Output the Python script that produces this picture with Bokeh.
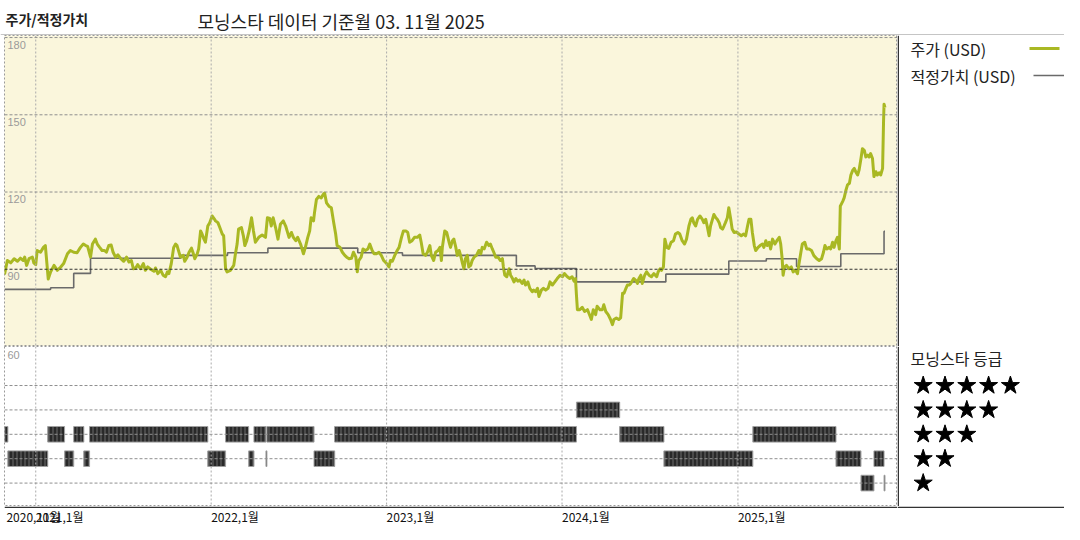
import pandas as pd
from bokeh.plotting import figure
from bokeh.layouts import column, row
from bokeh.models import Range1d, Span
from bokeh.core.properties import value
from bokeh.embed import file_html
from bokeh.resources import INLINE

# ---------------- data ----------------
title_text = "주가/적정가치"
subtitle_text = "모닝스타 데이터 기준월 03. 11월 2025"
price_label = "주가 (USD)"
fair_label = "적정가치 (USD)"
rating_title = "모닝스타 등급"

price_dates = [
    "2020-10-28", "2020-11-03", "2020-11-10", "2020-11-17", "2020-11-24", "2020-11-30", "2020-12-06", "2020-12-09",
    "2020-12-13", "2020-12-18", "2020-12-25", "2020-12-28",
    "2021-01-01", "2021-01-04", "2021-01-11", "2021-01-17", "2021-01-21", "2021-01-27", "2021-02-01", "2021-02-08",
    "2021-02-15", "2021-02-22", "2021-02-28", "2021-03-08", "2021-03-14", "2021-03-21", "2021-03-28", "2021-04-04",
    "2021-04-10", "2021-04-15", "2021-04-19", "2021-04-25", "2021-04-29", "2021-05-05", "2021-05-09", "2021-05-14",
    "2021-05-19", "2021-05-24", "2021-05-28", "2021-06-02", "2021-06-07", "2021-06-11", "2021-06-16", "2021-06-21",
    "2021-06-26", "2021-07-03", "2021-07-09", "2021-07-14", "2021-07-19", "2021-07-23", "2021-07-28", "2021-08-01",
    "2021-08-07", "2021-08-13", "2021-08-17", "2021-08-22", "2021-08-28", "2021-09-04", "2021-09-07", "2021-09-12",
    "2021-09-18", "2021-09-23", "2021-09-28", "2021-10-02", "2021-10-05", "2021-10-10", "2021-10-15", "2021-10-19",
    "2021-10-22", "2021-10-29", "2021-11-04", "2021-11-07", "2021-11-12", "2021-11-16", "2021-11-21", "2021-11-25",
    "2021-11-28", "2021-12-03", "2021-12-06", "2021-12-10", "2021-12-13", "2021-12-17", "2021-12-20", "2021-12-25",
    "2021-12-29",
    "2022-01-03", "2022-01-07", "2022-01-10", "2022-01-15", "2022-01-19", "2022-01-24", "2022-01-27", "2022-01-31",
    "2022-02-03", "2022-02-10", "2022-02-17", "2022-02-20", "2022-02-24", "2022-02-27", "2022-03-05", "2022-03-09",
    "2022-03-12", "2022-03-16", "2022-03-21", "2022-03-26", "2022-03-30", "2022-04-03", "2022-04-10", "2022-04-17",
    "2022-04-24", "2022-04-28", "2022-05-03", "2022-05-06", "2022-05-10", "2022-05-15", "2022-05-20", "2022-05-25",
    "2022-05-31", "2022-06-05", "2022-06-08", "2022-06-12", "2022-06-17", "2022-06-21", "2022-06-26", "2022-06-30",
    "2022-07-06", "2022-07-12", "2022-07-16", "2022-07-21", "2022-07-25", "2022-07-28", "2022-08-02", "2022-08-04",
    "2022-08-08", "2022-08-13", "2022-08-18", "2022-08-22", "2022-08-25", "2022-08-29", "2022-09-03", "2022-09-08",
    "2022-09-13", "2022-09-17", "2022-09-20", "2022-09-26", "2022-10-01", "2022-10-06", "2022-10-10", "2022-10-15",
    "2022-10-20", "2022-10-24", "2022-10-29", "2022-11-01", "2022-11-04", "2022-11-09", "2022-11-13", "2022-11-18",
    "2022-11-23", "2022-11-27", "2022-12-02", "2022-12-06", "2022-12-11", "2022-12-16", "2022-12-21", "2022-12-26",
    "2023-01-01", "2023-01-06", "2023-01-09", "2023-01-13", "2023-01-18", "2023-01-23", "2023-01-27", "2023-02-01",
    "2023-02-05", "2023-02-10", "2023-02-14", "2023-02-18", "2023-02-23", "2023-02-28", "2023-03-06", "2023-03-11",
    "2023-03-14", "2023-03-18", "2023-03-23", "2023-03-27", "2023-04-01", "2023-04-04", "2023-04-09", "2023-04-13",
    "2023-04-18", "2023-04-22", "2023-04-25", "2023-04-27", "2023-05-02", "2023-05-06", "2023-05-11", "2023-05-14",
    "2023-05-18", "2023-05-21", "2023-05-25", "2023-05-28", "2023-06-01", "2023-06-04", "2023-06-08", "2023-06-11",
    "2023-06-14", "2023-06-18", "2023-06-21", "2023-06-25", "2023-06-28", "2023-07-02", "2023-07-07", "2023-07-12",
    "2023-07-16", "2023-07-19", "2023-07-23", "2023-07-28", "2023-08-02", "2023-08-05", "2023-08-09", "2023-08-12",
    "2023-08-16", "2023-08-21", "2023-08-26", "2023-08-30", "2023-09-01", "2023-09-04", "2023-09-08", "2023-09-13",
    "2023-09-16", "2023-09-20", "2023-09-23", "2023-09-27", "2023-10-01", "2023-10-05", "2023-10-10", "2023-10-14",
    "2023-10-17", "2023-10-22", "2023-10-26", "2023-10-31", "2023-11-03", "2023-11-07", "2023-11-11", "2023-11-14",
    "2023-11-19", "2023-11-23", "2023-11-28", "2023-12-03", "2023-12-07", "2023-12-12", "2023-12-17", "2023-12-22",
    "2023-12-28",
    "2024-01-02", "2024-01-06", "2024-01-12", "2024-01-17", "2024-01-22", "2024-01-26", "2024-01-29", "2024-01-31",
    "2024-02-02", "2024-02-07", "2024-02-12", "2024-02-17", "2024-02-23", "2024-02-27", "2024-03-02", "2024-03-06",
    "2024-03-11", "2024-03-14", "2024-03-20", "2024-03-25", "2024-03-28", "2024-04-01", "2024-04-06", "2024-04-11",
    "2024-04-15", "2024-04-18", "2024-04-23", "2024-04-28", "2024-05-02", "2024-05-06", "2024-05-09", "2024-05-13",
    "2024-05-16", "2024-05-20", "2024-05-23", "2024-05-29", "2024-06-02", "2024-06-06", "2024-06-09", "2024-06-13",
    "2024-06-16", "2024-06-21", "2024-06-25", "2024-06-30", "2024-07-05", "2024-07-10", "2024-07-16", "2024-07-19",
    "2024-07-23", "2024-07-26", "2024-07-30", "2024-08-02", "2024-08-06", "2024-08-10", "2024-08-15", "2024-08-20",
    "2024-08-24", "2024-08-29", "2024-09-02", "2024-09-07", "2024-09-12", "2024-09-16", "2024-09-21", "2024-09-25",
    "2024-09-28", "2024-10-01", "2024-10-05", "2024-10-09", "2024-10-14", "2024-10-19", "2024-10-22", "2024-10-26",
    "2024-10-29", "2024-11-02", "2024-11-05", "2024-11-09", "2024-11-12", "2024-11-16", "2024-11-19", "2024-11-23",
    "2024-11-26", "2024-11-30", "2024-12-03", "2024-12-06", "2024-12-10", "2024-12-13", "2024-12-17", "2024-12-20",
    "2024-12-24", "2024-12-29",
    "2025-01-03", "2025-01-08", "2025-01-13", "2025-01-17", "2025-01-21", "2025-01-24", "2025-01-28", "2025-01-31",
    "2025-02-04", "2025-02-07", "2025-02-12", "2025-02-16", "2025-02-21", "2025-02-24", "2025-02-28", "2025-03-03",
    "2025-03-07", "2025-03-10", "2025-03-14", "2025-03-19", "2025-03-23", "2025-03-28", "2025-03-31", "2025-04-03",
    "2025-04-05", "2025-04-08", "2025-04-12", "2025-04-17", "2025-04-22", "2025-04-26", "2025-05-01", "2025-05-05",
    "2025-05-08", "2025-05-12", "2025-05-15", "2025-05-20", "2025-05-24", "2025-05-29", "2025-06-03", "2025-06-08",
    "2025-06-14", "2025-06-19", "2025-06-24", "2025-06-28", "2025-07-01", "2025-07-05", "2025-07-10", "2025-07-13",
    "2025-07-17", "2025-07-20", "2025-07-24", "2025-07-27", "2025-07-31", "2025-08-02", "2025-08-07", "2025-08-10",
    "2025-08-14", "2025-08-17", "2025-08-21", "2025-08-24", "2025-08-28", "2025-08-31", "2025-09-03", "2025-09-07",
    "2025-09-10", "2025-09-14", "2025-09-17", "2025-09-21", "2025-09-24", "2025-09-28", "2025-10-01", "2025-10-04",
    "2025-10-08", "2025-10-11", "2025-10-15", "2025-10-18", "2025-10-22", "2025-10-25", "2025-10-29", "2025-10-31",
    "2025-11-01", "2025-11-03",
]
price_values = [
    88.0, 93.4, 92.5, 94.1, 93.1, 94.3, 93.4, 94.7, 91.5, 94.1, 94.7, 92.5,
    91.8, 97.3, 96.6, 98.5, 99.2, 86.2, 89.0, 91.5, 89.6, 90.9, 92.2, 96.0, 97.3, 96.6, 96.4, 98.5,
    99.8, 99.2, 98.9, 94.7, 99.8, 101.7, 99.8, 98.5, 97.3, 97.3, 96.6, 99.2, 99.4, 96.6, 94.7, 95.6,
    94.3, 93.1, 94.7, 92.8, 93.4, 90.2, 90.5, 91.8, 90.2, 92.2, 89.6, 90.9, 90.0, 89.2, 90.5, 88.3,
    89.6, 87.7, 87.1, 89.0, 88.3, 92.2, 98.5, 99.8, 99.2, 94.7, 95.4, 93.1, 94.7, 96.6, 98.2, 96.0,
    94.1, 96.0, 97.9, 104.9, 103.7, 101.7, 100.5, 106.8, 108.1,
    110.7, 109.7, 108.8, 108.1, 106.2, 103.7, 103.0, 90.2, 89.0, 89.6, 91.5, 95.4, 99.8, 105.6, 106.2, 103.0,
    99.2, 101.1, 104.9, 110.0, 104.9, 100.5, 102.4, 103.3, 102.4, 110.0, 109.7, 106.8, 110.0, 106.2, 101.7, 107.5,
    108.8, 106.8, 104.9, 102.4, 104.3, 102.4, 101.1, 102.4, 99.8, 96.0, 98.5, 102.4, 104.9, 110.0, 108.8, 112.0,
    117.1, 118.3, 117.7, 119.0, 119.6, 115.8, 114.5, 113.9, 108.1, 103.7, 99.2, 98.5, 96.6, 95.4, 94.7, 94.1,
    94.3, 96.6, 94.7, 89.0, 93.4, 94.7, 97.9, 97.3, 97.9, 99.8, 97.3, 96.0, 96.0, 96.6, 95.4, 93.4,
    92.2, 90.9, 93.4, 93.1, 95.4, 97.3, 98.5, 102.4, 104.9, 104.9, 104.3, 100.5, 101.1, 102.4, 102.4, 103.3,
    100.5, 96.0, 95.4, 96.6, 99.2, 95.4, 93.4, 96.6, 97.3, 98.5, 93.4, 98.5, 104.9, 104.3, 100.5, 98.5,
    101.1, 101.7, 98.5, 95.4, 97.3, 95.4, 92.2, 90.2, 94.1, 95.4, 90.9, 91.5, 93.4, 94.7, 95.4, 97.3,
    96.0, 98.5, 97.9, 100.5, 99.2, 99.8, 97.9, 96.6, 94.7, 94.7, 93.4, 94.1, 90.9, 87.7, 87.1, 90.2,
    87.7, 86.4, 85.1, 86.4, 85.4, 85.8, 84.5, 85.8, 83.9, 85.1, 82.6, 81.3, 81.9, 81.3, 82.6, 79.4,
    81.9, 82.6, 81.9, 82.6, 85.1, 83.9, 85.1, 86.4, 87.7,
    87.1, 88.3, 87.1, 86.4, 87.1, 85.4, 86.4, 80.0, 74.3, 74.3, 75.2, 73.6, 74.3, 72.4, 70.5, 74.3,
    72.4, 75.6, 74.3, 74.3, 76.2, 73.6, 72.4, 70.5, 68.5, 70.5, 71.1, 70.5, 71.1, 80.7, 80.7, 82.6,
    83.9, 83.9, 84.5, 86.4, 85.8, 84.5, 86.4, 87.7, 84.5, 87.7, 89.0, 87.7, 87.1, 88.3, 87.1, 89.0,
    90.2, 89.6, 90.9, 101.7, 98.5, 98.1, 100.5, 101.1, 103.7, 104.3, 103.7, 101.1, 99.8, 101.7, 106.8, 109.4,
    110.0, 108.1, 106.8, 109.4, 110.7, 109.4, 108.1, 109.4, 106.8, 103.0, 106.8, 109.4, 111.3, 110.0, 109.4, 108.1,
    106.2, 105.6, 106.8, 108.1, 110.0, 113.9, 109.4, 105.6, 104.3, 104.5,
    103.7, 103.0, 103.7, 103.0, 106.8, 109.4, 109.4, 104.3, 99.2, 97.3, 98.5, 99.2, 99.8, 98.5, 101.1, 99.2,
    100.5, 97.9, 101.7, 99.8, 101.1, 102.4, 99.8, 94.1, 87.7, 90.9, 91.5, 90.2, 90.9, 89.0, 89.6, 88.3,
    92.1, 96.6, 99.8, 100.5, 97.9, 97.9, 97.3, 95.3, 94.1, 93.4, 94.1, 96.6, 99.2, 97.9, 98.5, 97.9,
    100.5, 98.5, 101.1, 102.4, 97.9, 114.5, 116.4, 117.7, 120.9, 122.8, 123.4, 126.6, 128.5, 129.2, 127.9, 126.6,
    128.5, 133.0, 136.8, 136.2, 133.6, 134.3, 133.6, 134.9, 133.0, 126.0, 127.9, 126.6, 127.5, 126.6, 129.2, 147.7,
    154.1, 152.8,
]

fair_dates = ["2020-10-28", "2021-02-01", "2021-03-21", "2021-04-25", "2021-10-30", "2022-02-04",
              "2022-04-29", "2022-11-02", "2023-02-03", "2023-09-28", "2023-11-06", "2024-01-31",
              "2024-08-04", "2024-12-13", "2025-03-01", "2025-05-03", "2025-08-03", "2025-11-01",
              "2025-11-03"]
fair_values = [82.2, 82.8, 88.4, 94.3, 95.4, 96.4, 98.2, 96.4, 95.4, 91.3, 90.3, 85.1,
               88.1, 93.2, 94.1, 91.1, 96.0, 104.7, 104.7]

rating_start = ["2020-10-28", "2020-11-04", "2021-01-26", "2021-03-02", "2021-03-21", "2021-04-11",
                "2021-04-23", "2021-12-25", "2022-01-31", "2022-03-20", "2022-03-31", "2022-04-25",
                "2022-04-27", "2022-08-03", "2022-09-15", "2024-01-31", "2024-04-30", "2024-07-31",
                "2025-02-01", "2025-07-24", "2025-09-14", "2025-10-11", "2025-11-01"]
rating_end = ["2020-11-04", "2021-01-26", "2021-03-02", "2021-03-21", "2021-04-11", "2021-04-23",
              "2021-12-25", "2022-01-31", "2022-03-20", "2022-03-31", "2022-04-25", "2022-04-27",
              "2022-08-03", "2022-09-15", "2024-01-31", "2024-04-30", "2024-07-31", "2025-02-01",
              "2025-07-24", "2025-09-14", "2025-10-11", "2025-11-01", "2025-11-03"]
rating_stars = [3, 2, 3, 2, 3, 2, 3, 2, 3, 2, 3, 2, 3, 2, 3, 4, 3, 2, 3, 2, 1, 2, 1]

price_ticks = [60, 90, 120, 150, 180]
star_levels = [5, 4, 3, 2, 1]
x_tick_dates = ["2020-11-01", "2021-01-01", "2022-01-01", "2023-01-01", "2024-01-01", "2025-01-01"]
x_tick_labels = ["2020,11월", "2021,1월", "2022,1월", "2023,1월", "2024,1월", "2025,1월"]

# ---------------- styling / layout ----------------
GREEN = "#A9B823"
FAIR = "#6a6a6a"
BEIGE = "#FAF6DC"
KR = value("Noto Sans CJK KR")
LEFT = 4
W_MAIN, W_LEG = 897, 167
H_HEAD, H_TOP, H_BOT, H_LAB = 35, 311, 160, 18
Y_TOP = (60, 180.8)
Y_BOT = (0.04, 6.6)

x0 = pd.Timestamp("2020-10-28")
x1 = pd.Timestamp("2025-11-29")
xr = Range1d(start=x0, end=x1)
year_dates = pd.to_datetime(x_tick_dates[1:])


def fig(width, height, xrange, yrange, **kw):
    p = figure(width=width, height=height, x_range=xrange, y_range=yrange,
               x_axis_location=None, y_axis_location=None, toolbar_location=None,
               output_backend="svg", min_border=0, **kw)
    p.grid.visible = False
    return p


# header
W_ALL = W_MAIN + W_LEG
head = fig(W_ALL, H_HEAD, Range1d(0, W_ALL), Range1d(H_HEAD, 0), outline_line_color=None)
head.text(x=[5], y=[18], text=[title_text], text_font=KR, text_font_size="14px",
          text_font_style="bold", text_baseline="middle", text_color="#222")
head.text(x=[197], y=[20], text=[subtitle_text], text_font=KR, text_font_size="18px",
          text_baseline="middle", text_color="#222")
head.segment(x0=[0], y0=[H_HEAD - 0.5], x1=[W_ALL], y1=[H_HEAD - 0.5],
             line_color="#8a8a8a", line_width=1)

# price panel
p1 = fig(W_MAIN, H_TOP, xr, Range1d(*Y_TOP), min_border_left=LEFT,
         background_fill_color=BEIGE, outline_line_color="#9a9a9a", outline_line_dash="2 2")
for t in year_dates:
    p1.add_layout(Span(location=t, dimension="height", line_color="#aaaaaa",
                       line_dash="2 2", line_width=1))
for v in price_ticks[1:]:
    p1.add_layout(Span(location=v, dimension="width",
                       line_color="#333333" if v == 90 else "#8f8f8f",
                       line_dash="3 2", line_width=1))
p1.text(x=[x0] * (len(price_ticks) - 1), y=price_ticks[1:], text=[str(v) for v in price_ticks[1:]],
        x_offset=3, y_offset=3, text_baseline="top", text_font=value("Liberation Sans"),
        text_font_size="11px", text_color="#9a9a9a")
p1.step(x=pd.to_datetime(fair_dates), y=fair_values, mode="after", line_color=FAIR, line_width=1.6)
p1.line(x=pd.to_datetime(price_dates), y=price_values, line_color=GREEN, line_width=3,
        line_join="round")

# price legend (pixel coordinates, y downwards)
l1 = fig(W_LEG, H_TOP, Range1d(0, W_LEG), Range1d(H_TOP, 0), outline_line_color=None)
l1.add_layout(Span(location=0.75, dimension="height", line_color="#333333", line_width=1.5))
l1.text(x=[13, 13], y=[13, 40], text=[price_label, fair_label], text_font=KR,
        text_font_size="16px", text_baseline="middle", text_color="#222")
l1.segment(x0=[132], y0=[13], x1=[162], y1=[13], line_color=GREEN, line_width=3)
l1.segment(x0=[136], y0=[40], x1=[167], y1=[40], line_color=FAIR, line_width=1.5)

# rating panel
p2 = fig(W_MAIN, H_BOT, xr, Range1d(*Y_BOT), min_border_left=LEFT,
         background_fill_color="white", outline_line_color="#9a9a9a", outline_line_dash="2 2")
for t in year_dates:
    p2.add_layout(Span(location=t, dimension="height", line_color="#aaaaaa",
                       line_dash="2 2", line_width=1))
for s in star_levels:
    p2.add_layout(Span(location=s, dimension="width", line_color="#8f8f8f",
                       line_dash="3 2", line_width=1))
p2.text(x=[x0], y=[Y_BOT[1]], text=[str(price_ticks[0])], x_offset=3, y_offset=4,
        text_baseline="top", text_font=value("Liberation Sans"), text_font_size="11px",
        text_color="#9a9a9a")
p2.quad(left=pd.to_datetime(rating_start), right=pd.to_datetime(rating_end),
        bottom=[r - 0.32 for r in rating_stars], top=[r + 0.32 for r in rating_stars],
        fill_color="#4a4a4a", line_color="#a0a0a0", line_width=1,
        hatch_pattern="vertical_line", hatch_color="#111111", hatch_scale=4, hatch_weight=1.2)

# rating legend (same vertical scale as the rating panel)
l2 = fig(W_LEG, H_BOT, Range1d(0, W_LEG), Range1d(*Y_BOT), outline_line_color=None)
l2.add_layout(Span(location=0.75, dimension="height", line_color="#333333", line_width=1.5))
px_per_unit = H_BOT / (Y_BOT[1] - Y_BOT[0])
l2.text(x=[13], y=[Y_BOT[1] - 11 / px_per_unit], text=[rating_title], text_font=KR,
        text_font_size="16px", text_baseline="middle", text_color="#222")
sx, sy = [], []
for n in star_levels:
    for i in range(n):
        sx.append(25.7 + 21.8 * i)
        sy.append(n)
l2.scatter(x=sx, y=sy, marker="star", size=19, fill_color="black", line_color="black")

# date labels row
lab = fig(W_MAIN, H_LAB, xr, Range1d(H_LAB, 0), min_border_left=LEFT, outline_line_color=None)
lab.segment(x0=[x0], y0=[0.75], x1=[x1], y1=[0.75], line_color="#333333", line_width=1.5)
lab.text(x=pd.to_datetime(x_tick_dates), y=[1.5] * len(x_tick_dates), text=x_tick_labels,
         text_font=KR, text_font_size="12px", text_baseline="top", text_align="left",
         text_color="#111111")
lab_leg = fig(W_LEG, H_LAB, Range1d(0, W_LEG), Range1d(H_LAB, 0), outline_line_color=None)
lab_leg.segment(x0=[0], y0=[0.75], x1=[W_LEG], y1=[0.75], line_color="#333333", line_width=1.5)

layout = column(head, row(p1, l1), row(p2, l2), row(lab, lab_leg))
open("out.html", "w").write(file_html(layout, INLINE))
